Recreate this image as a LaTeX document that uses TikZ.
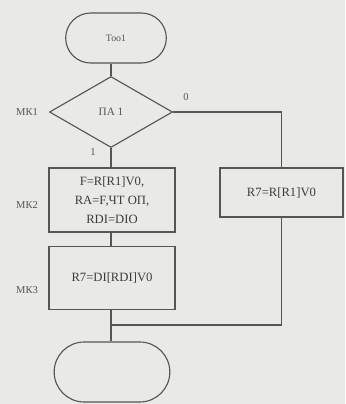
\documentclass[tikz,border=0pt]{standalone}
\usepackage{fontspec}
\setmainfont{Liberation Serif}
\usepackage{tikz}
\usetikzlibrary{shapes.geometric,shapes.misc}
\definecolor{paper}{HTML}{E9E9E6}
\definecolor{ink}{HTML}{555555}

\begin{document}
\begin{tikzpicture}[x=0.025cm,y=-0.025cm,
  term/.style={rounded rectangle, draw=ink, thick, minimum width=2.75cm, minimum height=1.25cm, font=\fontsize{7}{8}\selectfont, text=ink},
  cond/.style={diamond, draw=ink, thick, inner sep=0pt, minimum width=3.075cm, minimum height=1.775cm, font=\fontsize{8}{9}\selectfont, text=ink},
  block/.style={rectangle, draw=ink, thick, minimum width=3.15cm, align=center, font=\fontsize{9}{13.5}\selectfont, text=ink!70!black},
  tag/.style={font=\fontsize{7.5}{9}\selectfont, text=ink}]
  % Background
  \fill[paper] (0,0) rectangle (345,404);
  \useasboundingbox (0,0) rectangle (345,404);
  % Nodes
  \node[term] (start) at (116,38) {Тоо1};
  \node[cond] (test) at (111,112) {ПА 1};
  \node[block, minimum height=1.6cm] (mk2) at (112,200) {F=R[R1]V0,\\RA=F,ЧТ ОП,\\RDI=DIO};
  \node[block, minimum height=1.575cm] (mk3) at (112,278) {R7=DI[RDI]V0};
  \node[block, minimum width=3.075cm, minimum height=1.225cm] (alt) at (281.5,192.5) {R7=R[R1]V0};
  \node[term, minimum width=3.125cm, minimum height=1.5cm] (stop) at (112,372) {};
  \coordinate (join) at (111,325);
  % Labels
  \node[tag] (l1) at (27,112) {МК1};
  \node[tag] (l2) at (27,205) {МК2};
  \node[tag] (l3) at (27,290) {МК3};
  \node[tag] (no) at (186,97) {0};
  \node[tag] (yes) at (93,152) {1};
  % Connectors
  \draw[ink, thick] (test.north |- start.south) -- (test.north);
  \draw[ink, thick] (test.south) -- (test.south |- mk2.north);
  \draw[ink, thick] (test.south |- mk2.south) -- (test.south |- mk3.north);
  \draw[ink, thick] (test.south |- mk3.south) -- (test.south |- stop.north);
  \draw[ink, thick] (test.east) -| (alt.north);
  \draw[ink, thick] (alt.south) |- (join);
\end{tikzpicture}
\end{document}
